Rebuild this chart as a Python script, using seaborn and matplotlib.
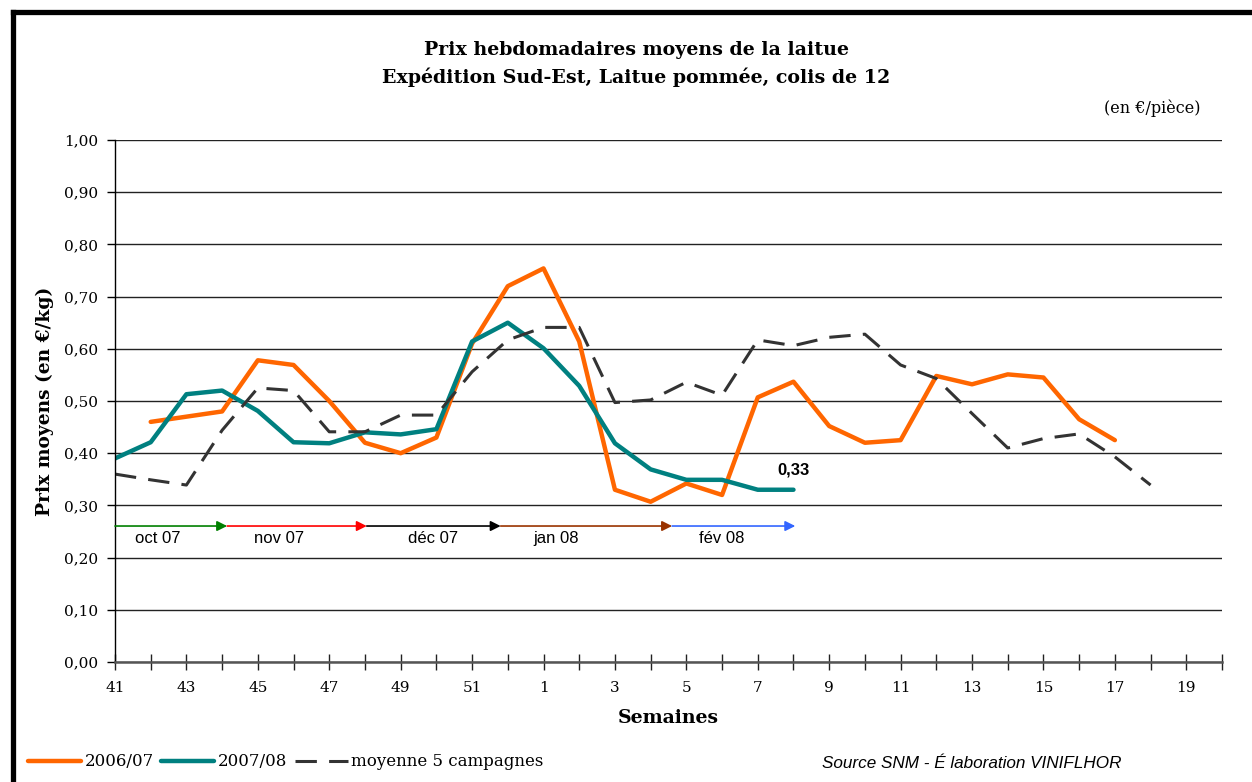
import numpy as np
import pandas as pd
import seaborn as sns
import matplotlib.pyplot as plt
from matplotlib.lines import Line2D

# semaines de la campagne (oct -> mai)
weeks = list(range(41, 53)) + list(range(1, 21))

# prix moyens en euros/kg
prix_0607 = [np.nan, 0.46, 0.47, 0.48, 0.578, 0.569, 0.50, 0.42, 0.40, 0.43, 0.61, 0.72,
             0.754, 0.614, 0.33, 0.307, 0.342, 0.32, 0.507, 0.537, 0.452, 0.42, 0.425,
             0.548, 0.532, 0.551, 0.545, 0.465, 0.425]
prix_0708 = [0.39, 0.421, 0.513, 0.52, 0.481, 0.421, 0.419, 0.44, 0.436, 0.446, 0.614, 0.65,
             0.601, 0.529, 0.419, 0.369, 0.349, 0.349, 0.33, 0.33]
moyenne_5 = [0.36, 0.349, 0.339, 0.444, 0.525, 0.52, 0.441, 0.441, 0.473, 0.473, 0.556, 0.617,
             0.641, 0.641, 0.497, 0.502, 0.536, 0.511, 0.617, 0.606, 0.622, 0.628, 0.569,
             0.543, 0.476, 0.41, 0.428, 0.437, 0.393, 0.339]

# fleches des mois (debut, fin en position de semaine)
mois = ["oct 07", "nov 07", "déc 07", "jan 08", "fév 08"]
mois_debut = [0, 3.14, 7.05, 10.8, 15.6]
mois_fin = [3.14, 7.05, 10.8, 15.6, 19.05]
mois_texte_x = [1.2, 4.6, 8.9, 12.35, 17.0]
mois_couleurs = ["#008000", "#FF0000", "#000000", "#993300", "#3366FF"]

sns.set_theme(style="white")
plt.rcParams["font.family"] = ["DejaVu Serif", "DejaVu Sans"]
plt.rcParams["text.color"] = "black"
plt.rcParams["axes.labelcolor"] = "black"
plt.rcParams["xtick.color"] = "black"
plt.rcParams["ytick.color"] = "black"

fig = plt.figure(figsize=(12.52, 7.82), dpi=100)
ax = fig.add_axes([115 / 1252, 1 - 662 / 782, 1107 / 1252, 522 / 782])


def serie(values):
    return pd.DataFrame({"pos": np.arange(len(values)), "prix": values}).dropna()


d1 = serie(prix_0607)
sns.lineplot(data=d1, x="pos", y="prix", color="#FF6600", linewidth=3.2, label="2006/07", ax=ax)
d2 = serie(prix_0708)
sns.lineplot(data=d2, x="pos", y="prix", color="#008080", linewidth=3.2, label="2007/08", ax=ax)
d3 = serie(moyenne_5)
sns.lineplot(data=d3, x="pos", y="prix", color="#333333", linewidth=2.2,
             label="moyenne 5 campagnes", ax=ax)
ax.lines[-1].set_dashes((7, 4))
for ln in ax.lines:
    ln.set_solid_capstyle("round")

# valeur de la derniere semaine
ax.annotate("0,33", (d2["pos"].iloc[-1], d2["prix"].iloc[-1]), xytext=(0, 20),
            textcoords="offset pixels", ha="center", va="center",
            fontsize=12, fontweight="bold", family="Liberation Sans")

# fleches des mois
for m, a, b, tx, c in zip(mois, mois_debut, mois_fin, mois_texte_x, mois_couleurs):
    ax.annotate("", xy=(b, 0.2605), xytext=(a, 0.2605),
                arrowprops=dict(arrowstyle="-|>", color=c, lw=1.2, mutation_scale=15,
                                shrinkA=0, shrinkB=0))
    ax.text(tx, 0.2375, m, ha="center", va="center", fontsize=12, family="Liberation Sans")

ax.set_xlim(0, 31)
ax.set_ylim(0, 1)
ax.set_xticks(range(32))
ax.set_xticklabels([str(weeks[i]) if i % 2 == 0 else "" for i in range(32)])
ax.set_yticks(np.arange(0, 1.01, 0.1))
ax.set_yticklabels([f"{v:.2f}".replace(".", ",") for v in np.arange(0, 1.01, 0.1)])
ax.tick_params(axis="x", direction="inout", length=12, width=1, color="#222222",
               labelsize=11, pad=8, bottom=True)
ax.tick_params(axis="y", direction="out", length=6, width=1, color="#000000",
               labelsize=11, pad=6, left=True)
ax.yaxis.grid(True, color="#222222", linewidth=1.0)
ax.xaxis.grid(False)
for s in ["top", "right"]:
    ax.spines[s].set_visible(False)
ax.spines["left"].set_color("#000000")
ax.spines["left"].set_linewidth(1.0)
ax.spines["bottom"].set_color("#555555")
ax.spines["bottom"].set_linewidth(1.8)

ax.set_xlabel("Semaines", fontsize=13.6, fontweight="bold")
ax.xaxis.set_label_coords(0.5, -0.107)
ax.xaxis.label.set_va("center")
ax.set_ylabel("Prix moyens (en €/kg)", fontsize=13.4, fontweight="bold")
ax.yaxis.set_label_coords(-0.0632, 0.5)
ax.yaxis.label.set_va("center")

handles, labels = ax.get_legend_handles_labels()
ax.get_legend().remove()
fig.legend(handles, labels, loc="center left", bbox_to_anchor=(21 / 1252, 1 - 762 / 782),
           ncol=3, frameon=False, handlelength=3.2, handletextpad=0.2, columnspacing=0.45,
           fontsize=12, borderaxespad=0)

fig.text(636 / 1252, 1 - 50 / 782, "Prix hebdomadaires moyens de la laitue",
         ha="center", va="center", fontsize=13.7, fontweight="bold")
fig.text(636 / 1252, 1 - 77 / 782, "Expédition Sud-Est, Laitue pommée, colis de 12",
         ha="center", va="center", fontsize=13.7, fontweight="bold")
fig.text(1200 / 1252, 1 - 108 / 782, "(en €/pièce)", ha="right", va="center", fontsize=11.5)
fig.text(822 / 1252, 1 - 763 / 782, "Source SNM - É laboration VINIFLHOR", ha="left",
         va="center", fontsize=12.3, style="italic", family="Liberation Sans")

# cadre noir en haut et a gauche
fig.add_artist(Line2D([12.5 / 1252, 1], [1 - 11.5 / 782, 1 - 11.5 / 782],
                      transform=fig.transFigure, color="black", linewidth=3.8,
                      solid_capstyle="projecting"))
fig.add_artist(Line2D([12.5 / 1252, 12.5 / 1252], [1 - 11.5 / 782, 0],
                      transform=fig.transFigure, color="black", linewidth=3.8,
                      solid_capstyle="projecting"))

fig.savefig("out.png", dpi=100, facecolor="white")
